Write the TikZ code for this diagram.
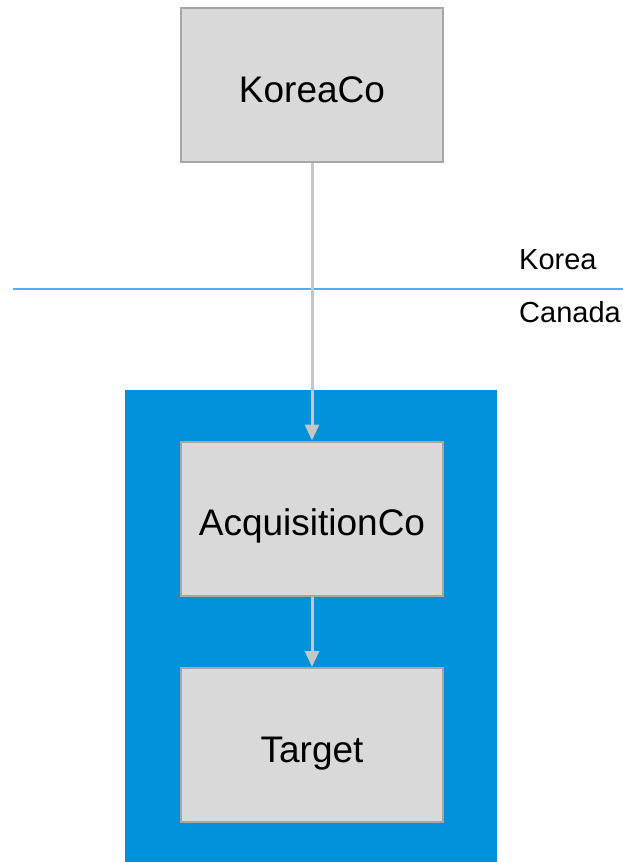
\documentclass[tikz,border=0pt]{standalone}
\usepackage{fontspec}
\setmainfont{Liberation Sans}
\usetikzlibrary{arrows.meta}
\definecolor{boxfill}{HTML}{D9D9D9}
\definecolor{boxline}{HTML}{A6A6A6}
\definecolor{linkgray}{HTML}{C6C6C6}
\definecolor{canblue}{HTML}{0091D9}
\definecolor{border}{HTML}{4DB0EE}
\begin{document}
\begin{tikzpicture}[x=1pt,y=-1pt,
  entity/.style={draw=boxline,line width=2pt,fill=boxfill,minimum width=262pt,minimum height=154pt,inner sep=0pt,text height=34pt,text depth=0pt,font=\fontsize{37}{44}\selectfont},
  link/.style={draw=linkgray,line width=3pt,-{Triangle[length=16pt,width=14pt]}},
  country/.style={anchor=west,inner sep=0pt,font=\fontsize{29}{34}\selectfont}]
  \useasboundingbox (0,0) rectangle (623,862);
  % Canadian group area
  \fill[canblue] (125,390) rectangle (497,862);
  % Border between jurisdictions
  \draw[border,line width=2.5pt] (13,289) -- (623,289);
  \node[country] (korea) at (519,260) {Korea};
  \node[country] (canada) at (519,312) {Canada};
  % Entities
  \node[entity] (kco) at (312,85) {KoreaCo};
  \node[entity] (aco) at (312,518.5) {AcquisitionCo};
  \node[entity] (tgt) at (312,745) {Target};
  % Ownership links
  \draw[link] (kco.south) -- (aco.north);
  \draw[link] (aco.south) -- (tgt.north);
\end{tikzpicture}
\end{document}
